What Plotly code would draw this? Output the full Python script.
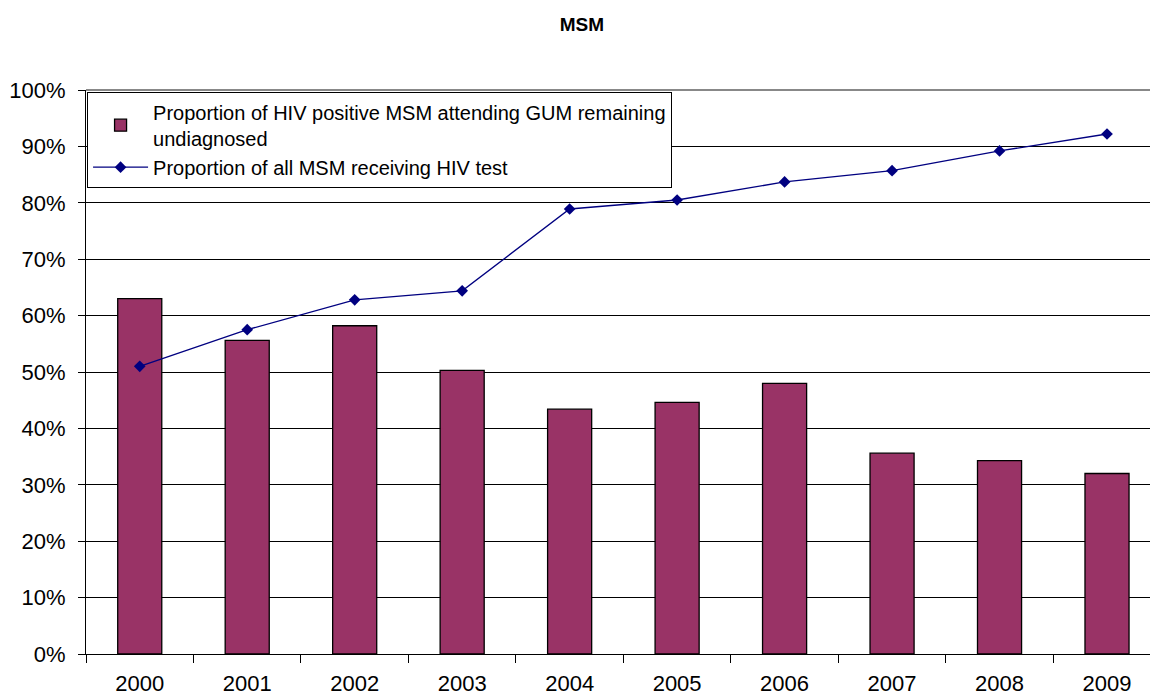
import plotly.graph_objects as go

years = ["2000", "2001", "2002", "2003", "2004", "2005", "2006", "2007", "2008", "2009"]
undiagnosed = [63.0, 55.6, 58.2, 50.3, 43.4, 44.6, 48.0, 35.6, 34.3, 32.0]
tested = [51.0, 57.5, 62.8, 64.4, 78.9, 80.5, 83.7, 85.7, 89.2, 92.2]

FONT = "Liberation Sans, Arial, sans-serif"

fig = go.Figure()
fig.add_trace(go.Bar(
    x=years, y=undiagnosed,
    name="Proportion of HIV positive MSM attending GUM remaining<br>undiagnosed",
    marker=dict(color="#993366", line=dict(color="black", width=1.3)),
    width=0.41,
))
fig.add_trace(go.Scatter(
    x=years, y=tested, mode="lines+markers",
    name="Proportion of all MSM receiving HIV test",
    line=dict(color="#000080", width=1.3),
    marker=dict(symbol="diamond", size=9, color="#000080"),
))

fig.update_layout(
    width=1150, height=697,
    paper_bgcolor="white", plot_bgcolor="white",
    margin=dict(l=86, r=0, t=90, b=43, autoexpand=False),
    font=dict(family=FONT, color="black", size=22),
    title=dict(text="<b>MSM</b>", x=0.506, xanchor="center", y=0.965, yanchor="middle",
               font=dict(family=FONT, size=19, color="black")),
    showlegend=True,
    legend=dict(x=0.001, y=0.997, xanchor="left", yanchor="top",
                bgcolor="white", bordercolor="black", borderwidth=1,
                font=dict(family=FONT, size=20, color="black"),
                tracegroupgap=0, itemsizing="trace", itemwidth=55),
    bargap=0.59,
)
fig.update_xaxes(
    type="category", range=[-0.5, 9.4], automargin=False,
    showline=True, linecolor="black", linewidth=1,
    ticks="outside", tickson="boundaries", ticklen=8, tickcolor="black",
    showgrid=False, tickfont=dict(size=22), ticklabelstandoff=10, fixedrange=True,
)
fig.update_yaxes(
    range=[0, 100], dtick=10, ticksuffix="%", automargin=False,
    showline=True, linecolor="black", linewidth=1,
    ticks="outside", ticklen=7, tickcolor="black",
    showgrid=True, gridcolor="black", gridwidth=1,
    zeroline=False, tickfont=dict(size=22), ticklabelstandoff=8,
)
fig.add_shape(type="line", xref="paper", yref="paper", x0=0, x1=1, y0=1, y1=1,
              line=dict(color="#888888", width=2))

fig.write_html("out.html", config={"displayModeBar": False},
               post_script="document.body.style.margin='0';document.body.style.overflow='hidden';")
